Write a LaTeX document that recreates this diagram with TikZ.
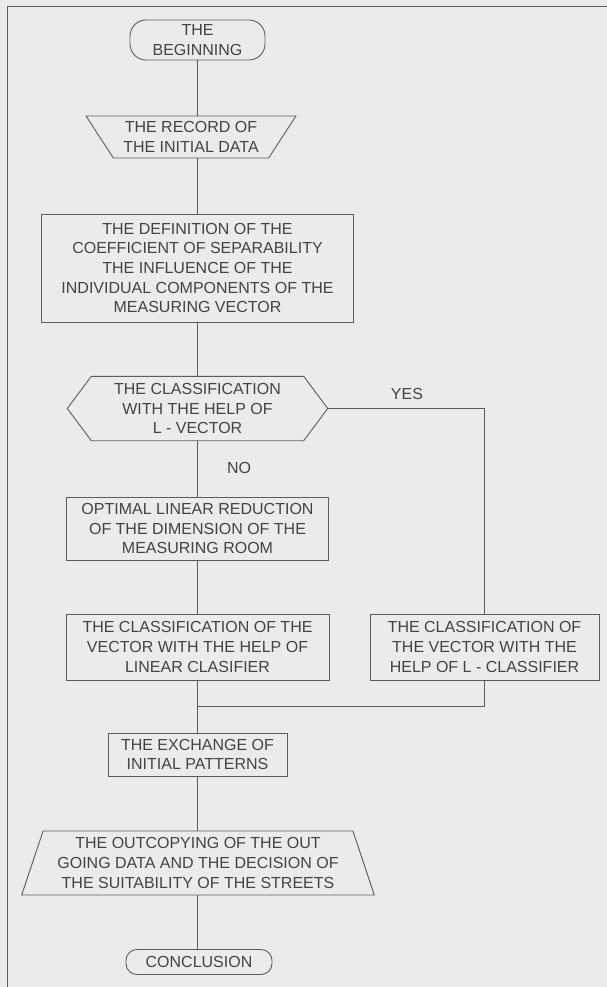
\documentclass[tikz,border=0pt]{standalone}
\usepackage{fontspec}
\setmainfont{Liberation Sans}
\usetikzlibrary{shapes.geometric,calc}
\definecolor{bgc}{HTML}{ECEBEB}
\definecolor{linec}{HTML}{5F5B5D}
\definecolor{textc}{HTML}{434343}
\begin{document}
\begin{tikzpicture}[x=1pt,y=-1pt,
  txt/.style={text=textc,font=\fontsize{16}{19.6}\selectfont,align=center,inner sep=0pt},
  base/.style={txt,draw=linec,line width=0.9pt},
  procbox/.style={base,rectangle},
  termbox/.style={base,rectangle},
  iobox/.style={base,trapezium,trapezium stretches=true},
  conn/.style={draw=linec,line width=0.9pt}]
\useasboundingbox[fill=bgc] (0,0) rectangle (607,987);
% page frame
\draw[conn] (7,987) -- (7,6) -- (607,6);
% nodes
\node[termbox,rounded corners=16pt,minimum width=135pt,minimum height=40pt] (beg) at (197.5,40) {THE\\BEGINNING};
\node[iobox,trapezium left angle=127.7,trapezium right angle=127.7,minimum width=210pt,minimum height=42pt] (rec) at (191,137) {THE RECORD OF\\THE INITIAL DATA};
\node[procbox,minimum width=312pt,minimum height=108pt] (def) at (197.5,268) {THE DEFINITION OF THE\\COEFFICIENT OF SEPARABILITY\\THE INFLUENCE OF THE\\INDIVIDUAL COMPONENTS OF THE\\MEASURING VECTOR};
\node[txt,minimum width=212pt,minimum height=64pt] (hex) at (197.5,408.5) {THE CLASSIFICATION\\WITH THE HELP OF\\L - VECTOR};
\coordinate (hexR) at ($(hex.east)+(24,0)$);
\coordinate (hexL) at ($(hex.west)+(-24,0)$);
\draw[conn] (hex.north west) -- (hex.north east) -- (hexR) -- (hex.south east) -- (hex.south west) -- (hexL) -- cycle;
\node[procbox,minimum width=262pt,minimum height=63pt] (opt) at (197.5,528.5) {OPTIMAL LINEAR REDUCTION\\OF THE DIMENSION OF THE\\MEASURING ROOM};
\node[procbox,minimum width=263pt,minimum height=66pt] (cl) at (197.5,647) {THE CLASSIFICATION OF THE\\VECTOR WITH THE HELP OF\\LINEAR CLASIFIER};
\node[procbox,minimum width=229pt,minimum height=66pt] (cr) at (484.5,647) {THE CLASSIFICATION OF\\THE VECTOR WITH THE\\HELP OF L - CLASSIFIER};
\node[procbox,minimum width=179pt,minimum height=43pt] (ex) at (197.5,754.5) {THE EXCHANGE OF\\INITIAL PATTERNS};
\node[iobox,trapezium left angle=69,trapezium right angle=69,minimum width=354pt,minimum height=64pt] (out) at (198,863) {THE OUTCOPYING OF THE OUT\\GOING DATA AND THE DECISION OF\\THE SUITABILITY OF THE STREETS};
\node[termbox,rounded corners=11pt,minimum width=146pt,minimum height=25pt] (con) at (199,962) {CONCLUSION};
% labels
\node[txt] (yes) at (407,394) {YES};
\node[txt] (no) at (239,468) {NO};
% connectors
\coordinate (jn) at (197.5,706);
\draw[conn] (beg.south) -- (beg.south |- rec.north);
\draw[conn] (def.north |- rec.south) -- (def.north);
\draw[conn] (def.south) -- (hex.north);
\draw[conn] (hex.south) -- (opt.north);
\draw[conn] (opt.south) -- (cl.north);
\draw[conn] (hexR) -| (cr.north);
\draw[conn] (cr.south) |- (jn);
\draw[conn] (cl.south) -- (jn) -- (ex.north);
\draw[conn] (ex.south) -- (ex.south |- out.north);
\draw[conn] (ex.south |- out.south) -- (ex.south |- con.north);
\end{tikzpicture}
\end{document}
